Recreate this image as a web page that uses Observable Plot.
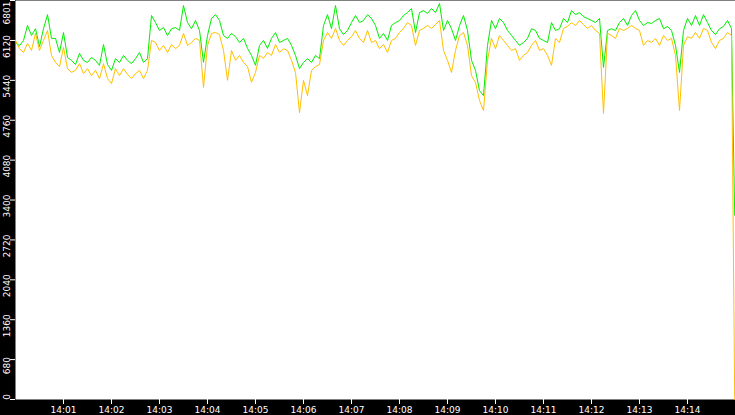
<!DOCTYPE html>
<html><head><meta charset="utf-8">
<script src="https://cdn.jsdelivr.net/npm/d3@7"></script>
<script src="https://cdn.jsdelivr.net/npm/@observablehq/plot@0.6"></script>
<style>html,body{margin:0;padding:0;background:#000;} #chart svg{display:block}</style>
</head><body><div id="chart"></div>
<script>
// Sampling: one reading every 5 seconds from 14:00:00, final reading at 14:14:59
const startTime = Date.UTC(2024, 0, 1, 14, 0, 0);
const stepSeconds = 5;
const lastSampleSecond = 899;

const greenValues = [
6085,6030,6120,6375,6205,6320,6015,6320,6560,6155,
6155,5915,6255,5830,5780,5710,5900,5780,5745,5830,
5780,5695,6050,5710,5610,5810,5745,5865,5780,5725,
5810,5915,5745,5810,6545,6425,6290,6340,6205,6320,
6340,6290,6715,6425,6320,6460,6290,5745,6205,6495,
6560,6460,6205,6155,6240,6185,6085,6155,5985,5865,
5695,6035,6120,5985,6155,6255,6085,6120,6155,6035,
5865,5640,5745,5810,5745,5865,5810,6375,6560,6320,
6715,6320,6220,6290,6425,6545,6425,6460,6560,6495,
6375,6155,6240,6120,6375,6425,6460,6545,6595,6665,
6255,6595,6630,6580,6665,6595,6750,6290,6460,6320,
6120,6375,6545,6290,5780,5610,5265,5180,6035,6460,
6320,6495,6425,6290,6205,6120,6035,6085,6155,6320,
6290,6155,6120,6085,6425,6290,6320,6495,6425,6630,
6560,6595,6525,6495,6460,6425,6495,5660,6290,6320,
6290,6425,6495,6375,6545,6630,6460,6375,6425,6410,
6460,6495,6320,6360,6290,6035,5575,6290,6495,6375,
6545,6375,6560,6425,6290,6220,6320,6360,6460,6320,
3140];

const orangeValues = [
6120,5980,5915,6070,5950,6240,5950,6120,6290,5865,
5745,5675,6000,5640,5575,5610,5725,5555,5640,5520,
5610,5470,5725,5470,5385,5640,5520,5640,5540,5470,
5555,5610,5470,5610,6120,6085,5950,6035,5915,6050,
5980,6035,6240,6035,6085,6155,6120,5320,6035,6240,
6255,6220,5950,5440,5950,5780,5865,5745,5675,5405,
5575,5865,5815,5915,5865,6050,5915,5980,5950,5780,
5575,4890,5440,5180,5610,5675,5710,6120,6255,6155,
6325,6120,6035,6120,6185,6290,6155,6085,6290,6085,
6120,5980,6050,5915,6120,6155,6255,6325,6425,6375,
6035,6290,6325,6375,6325,6390,6460,5950,5780,5575,
5950,6205,6255,6035,5520,5405,5095,4925,5780,6155,
5980,6205,6120,6035,5950,5980,5780,5865,5915,6035,
6120,5950,5980,5865,5695,6155,6085,6325,6360,6425,
6375,6460,6390,6325,6375,6290,6240,4875,6240,6205,
6155,6325,6290,6325,6375,6325,6290,6035,6120,6085,
6155,6035,6205,6120,6155,5865,4925,6035,6185,6155,
6255,6155,6325,6290,6085,5980,6120,6155,6255,6205,
0];

const yTickValues = [0, 680, 1360, 2040, 2720, 3400, 4080, 4760, 5440, 6120, 6801];
const xTickLabels = ["14:01","14:02","14:03","14:04","14:05","14:06","14:07","14:08","14:09","14:10","14:11","14:12","14:13","14:14"];

const n = greenValues.length;
const rows = greenValues.map((g, i) => ({
  time: new Date(startTime + 1000 * (i < n - 1 ? i * stepSeconds : lastSampleSecond)),
  green: g,
  orange: orangeValues[i]
}));
const xTicks = xTickLabels.map(s => { const [h, m] = s.split(":").map(Number); return new Date(Date.UTC(2024, 0, 1, h, m, 0)); });
const yMax = yTickValues[yTickValues.length - 1];
const yMin = yTickValues[0];

const W = 735, H = 415, mL = 15, mB = 16;
const plotH = H - mB;
// rotated y labels: centre ~6px below the tick, kept inside the axis strip
const unitsPerPx = (yMax - yMin) / plotH;
const labelY = v => {
  let c = v - 6 * unitsPerPx;
  if (c > yMax - 12.5 * unitsPerPx) c = yMax - 12.5 * unitsPerPx;
  if (c < yMin + 2.5 * unitsPerPx) c = yMin + 2.5 * unitsPerPx;
  return c;
};

const font = "DejaVu Sans";
const chart = Plot.plot({
  width: W,
  height: H,
  marginLeft: mL,
  marginRight: 0,
  marginTop: 0,
  marginBottom: mB,
  style: {background: "#000", fontFamily: font, fontSize: "9px"},
  x: {type: "utc", domain: [new Date(startTime), new Date(startTime + 1000 * 900)], axis: null},
  y: {domain: [yMin, yMax], axis: null},
  marks: [
    Plot.frame({fill: "white", stroke: null}),
    Plot.lineY(rows, {x: "time", y: "green", stroke: "#00ee00", strokeWidth: 1}),
    Plot.lineY(rows, {x: "time", y: "orange", stroke: "#ffc000", strokeWidth: 1}),
    Plot.axisX({ticks: xTicks, tickSize: 5, tickPadding: 2, color: "white", fontSize: 9, tickFormat: d3.utcFormat("%H:%M"), label: null}),
    Plot.axisY({ticks: yTickValues, tickSize: 5, color: "white", tickFormat: () => "", label: null}),
    Plot.text(yTickValues, {y: d => labelY(d), text: d => String(d), frameAnchor: "left", dx: -8, rotate: -90, textAnchor: "middle", lineAnchor: "middle", fill: "white", fontSize: 9})
  ]
});
document.getElementById("chart").appendChild(chart);
</script>
</body></html>
